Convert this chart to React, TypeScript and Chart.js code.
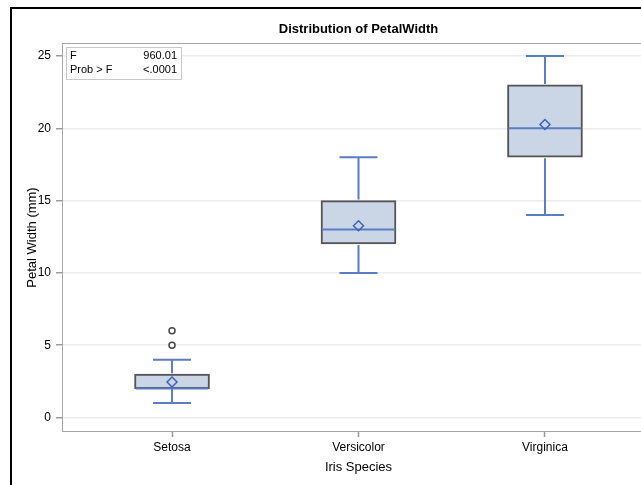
import React, { useEffect, useRef } from "react";
import { Chart, registerables } from "chart.js";

Chart.register(...registerables);

// Iris petal width summary (mm) by species
const species = ["Setosa", "Versicolor", "Virginica"];
const whiskerLow = [1, 10, 14];
const q1 = [2, 12, 18];
const median = [2, 13, 20];
const q3 = [3, 15, 23];
const whiskerHigh = [4, 18, 25];
const means = [2.46, 13.26, 20.26];
const outlierSpecies = [0, 0];
const outlierValues = [5, 6];
const yTicks = [0, 5, 10, 15, 20, 25];
const statLabels = ["F", "Prob > F"];
const statValues = ["960.01", "<.0001"];

const FONT = "'Liberation Sans', Arial, sans-serif";
const BOX_WIDTH = 75;
const CAP_WIDTH = 38;
const WHISKER_COLOR = "#5b7dc6";

const boxPlotPlugin = {
  id: "boxWhiskers",
  afterDatasetDraw(chart: any, args: any) {
    if (args.index !== 0) return;
    const { ctx, scales } = chart;
    const xs = scales.x;
    const ys = scales.y;
    ctx.save();
    ctx.strokeStyle = WHISKER_COLOR;
    ctx.lineWidth = 2;
    species.forEach((_, i) => {
      const cx = xs.getPixelForValue(i);
      const yLo = ys.getPixelForValue(whiskerLow[i]);
      const yQ1 = ys.getPixelForValue(q1[i]);
      const yQ3 = ys.getPixelForValue(q3[i]);
      const yHi = ys.getPixelForValue(whiskerHigh[i]);
      const yMed = ys.getPixelForValue(median[i]);
      ctx.beginPath();
      // whiskers
      ctx.moveTo(cx, yQ1 + 1);
      ctx.lineTo(cx, yLo);
      ctx.moveTo(cx, yQ3 - 1);
      ctx.lineTo(cx, yHi);
      // caps
      ctx.moveTo(cx - CAP_WIDTH / 2, yLo);
      ctx.lineTo(cx + CAP_WIDTH / 2, yLo);
      ctx.moveTo(cx - CAP_WIDTH / 2, yHi);
      ctx.lineTo(cx + CAP_WIDTH / 2, yHi);
      // median
      ctx.moveTo(cx - BOX_WIDTH / 2 + 1, yMed);
      ctx.lineTo(cx + BOX_WIDTH / 2 - 1, yMed);
      ctx.stroke();
    });
    ctx.restore();
  },
  afterDraw(chart: any) {
    const { ctx, chartArea } = chart;
    const { left, top, right, bottom } = chartArea;
    ctx.save();
    // plot frame
    ctx.strokeStyle = "#a6a6a6";
    ctx.lineWidth = 1;
    ctx.strokeRect(left + 0.5, top + 0.5, right - left - 1, bottom - top - 1);

    // title
    ctx.fillStyle = "#000";
    ctx.font = `bold 13px ${FONT}`;
    ctx.textAlign = "center";
    ctx.textBaseline = "middle";
    ctx.fillText("Distribution of PetalWidth", (left + right) / 2, top - 14);

    // statistics inset
    const bx = left + 4;
    const by = top + 4;
    const bw = 115;
    const bh = 32;
    ctx.fillStyle = "#fff";
    ctx.fillRect(bx, by, bw, bh);
    ctx.strokeStyle = "#c8c8c8";
    ctx.strokeRect(bx + 0.5, by + 0.5, bw, bh);
    ctx.fillStyle = "#000";
    ctx.font = `11px ${FONT}`;
    statLabels.forEach((lab, i) => {
      const ty = by + 9 + i * 14;
      ctx.textAlign = "left";
      ctx.fillText(lab, bx + 4, ty);
      ctx.textAlign = "right";
      ctx.fillText(statValues[i], bx + bw - 4, ty);
    });
    ctx.restore();
  },
};

export default function App() {
  const canvasRef = useRef<HTMLCanvasElement | null>(null);

  useEffect(() => {
    if (!canvasRef.current) return;
    const chart = new Chart(canvasRef.current, {
      type: "bar",
      data: {
        datasets: [
          {
            type: "bar",
            data: species.map((_, i) => ({ x: i, y: [q1[i], q3[i]] })) as any,
            backgroundColor: "#cad5e5",
            borderColor: "#545454",
            borderWidth: 2,
            borderSkipped: false,
            barThickness: BOX_WIDTH,
            order: 3,
          },
          {
            type: "scatter",
            data: means.map((m, i) => ({ x: i, y: m })),
            pointStyle: "rectRot",
            pointRadius: 5,
            borderColor: "#3e63b5",
            borderWidth: 1.5,
            backgroundColor: "rgba(0,0,0,0)",
            order: 1,
          },
          {
            type: "scatter",
            data: outlierValues.map((v, i) => ({ x: outlierSpecies[i], y: v })),
            pointStyle: "circle",
            pointRadius: 3,
            borderColor: "#444",
            borderWidth: 1.5,
            backgroundColor: "#fff",
            order: 2,
          },
        ] as any,
      },
      options: {
        animation: false,
        responsive: false,
        events: [],
        layout: { padding: { top: 34, left: 0, right: 10, bottom: 0 } },
        plugins: { legend: { display: false }, tooltip: { enabled: false } },
        scales: {
          x: {
            type: "linear",
            min: -0.59,
            max: 2.59,
            offset: false,
            afterBuildTicks: (s: any) => {
              s.ticks = species.map((_, i) => ({ value: i }));
            },
            afterFit: (s: any) => {
              s.height = 67;
            },
            ticks: {
              callback: (v: any) => species[v] ?? "",
              color: "#000",
              font: { family: FONT, size: 12 },
              padding: 3,
              maxRotation: 0,
            },
            grid: {
              offset: false,
              drawOnChartArea: false,
              drawTicks: true,
              tickLength: 5,
              tickColor: "#9a9a9a",
              tickWidth: 1.5,
            },
            border: { display: false },
            title: {
              display: true,
              text: "Iris Species",
              color: "#000",
              font: { family: FONT, size: 13 },
              padding: { top: 0, bottom: 24 },
            },
          },
          y: {
            type: "linear",
            min: -1,
            max: 25.9,
            afterBuildTicks: (s: any) => {
              s.ticks = yTicks.map((v) => ({ value: v }));
            },
            afterFit: (s: any) => {
              s.width = 50;
            },
            ticks: {
              color: "#000",
              font: { family: FONT, size: 12 },
              padding: 5,
            },
            grid: {
              color: "#ececec",
              lineWidth: 1.5,
              drawTicks: true,
              tickLength: 6,
              tickColor: "#9a9a9a",
              tickWidth: 1.5,
            },
            border: { display: false },
            title: {
              display: true,
              text: "Petal Width (mm)",
              color: "#000",
              font: { family: FONT, size: 13 },
              padding: { top: 13, bottom: 0 },
            },
          },
        },
      },
      plugins: [boxPlotPlugin],
    } as any);
    return () => chart.destroy();
  }, []);

  return (
    <div
      style={{
        position: "absolute",
        left: 10,
        top: 7,
        border: "2px solid #000",
        background: "#fff",
      }}
    >
      <canvas ref={canvasRef} width={653} height={490} style={{ display: "block" }} />
    </div>
  );
}
